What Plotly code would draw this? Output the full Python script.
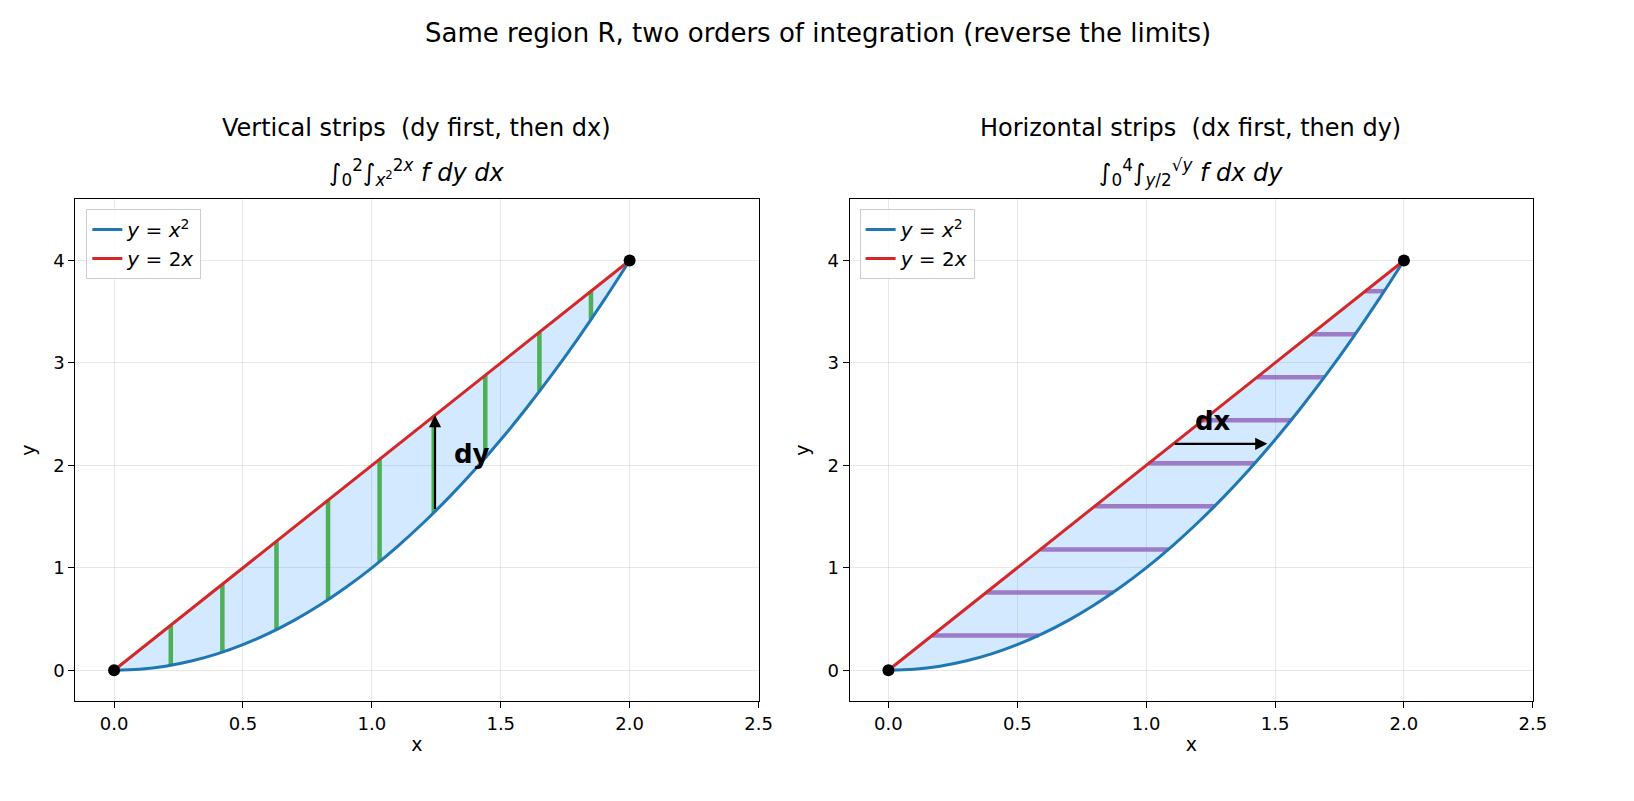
import plotly.graph_objects as go

# === Дані ===
curve_x = [0.0, 0.1, 0.2, 0.3, 0.4, 0.5, 0.6, 0.7, 0.8, 0.9, 1.0,
           1.1, 1.2, 1.3, 1.4, 1.5, 1.6, 1.7, 1.8, 1.9, 2.0]
parab_y = [0.0, 0.01, 0.04, 0.09, 0.16, 0.25, 0.36, 0.49, 0.64, 0.81, 1.0,
           1.21, 1.44, 1.69, 1.96, 2.25, 2.56, 2.89, 3.24, 3.61, 4.0]
line_y = [0.0, 0.2, 0.4, 0.6, 0.8, 1.0, 1.2, 1.4, 1.6, 1.8, 2.0,
          2.2, 2.4, 2.6, 2.8, 3.0, 3.2, 3.4, 3.6, 3.8, 4.0]

# вертикальні смуги: x, низ (x^2), верх (2x)
vstrip_x = [0.22, 0.42, 0.63, 0.83, 1.03, 1.24, 1.44, 1.65, 1.85]
vstrip_lo = [0.048, 0.176, 0.397, 0.689, 1.061, 1.538, 2.074, 2.723, 3.423]
vstrip_hi = [0.44, 0.84, 1.26, 1.66, 2.06, 2.48, 2.88, 3.30, 3.70]

# горизонтальні смуги: y, лівий край (y/2), правий край (sqrt(y))
hstrip_y = [0.34, 0.76, 1.18, 1.60, 2.02, 2.44, 2.86, 3.28, 3.70]
hstrip_lo = [0.17, 0.38, 0.59, 0.80, 1.01, 1.22, 1.43, 1.64, 1.85]
hstrip_hi = [0.583, 0.872, 1.086, 1.265, 1.421, 1.562, 1.691, 1.811, 1.924]

corner_x = [0, 2]
corner_y = [0, 4]

x_ticks = [0.0, 0.5, 1.0, 1.5, 2.0, 2.5]
y_ticks = [0, 1, 2, 3, 4]

W, H = 1634, 801
BLUE = "#1f77b4"
RED = "#d62728"
FILL = "rgba(30,144,255,0.2)"
GREEN = "rgba(44,160,44,0.8)"
PURPLE = "rgba(148,103,189,0.85)"
FONT = "DejaVu Sans"

fig = go.Figure()

panels = [
    ("x", "y", "legend", True),
    ("x2", "y2", "legend2", False),
]

for xa, ya, leg, vertical in panels:
    # область R
    fig.add_trace(go.Scatter(
        x=curve_x + curve_x[::-1], y=parab_y + line_y[::-1],
        fill="toself", fillcolor=FILL, line=dict(width=0, shape="spline"),
        mode="lines", hoverinfo="skip", showlegend=False, xaxis=xa, yaxis=ya))
    # смуги
    sx, sy = [], []
    if vertical:
        for x, lo, hi in zip(vstrip_x, vstrip_lo, vstrip_hi):
            sx += [x, x, None]
            sy += [lo, hi, None]
        color = GREEN
    else:
        for y, lo, hi in zip(hstrip_y, hstrip_lo, hstrip_hi):
            sx += [lo, hi, None]
            sy += [y, y, None]
        color = PURPLE
    fig.add_trace(go.Scatter(x=sx, y=sy, mode="lines",
                             line=dict(color=color, width=4.5),
                             showlegend=False, xaxis=xa, yaxis=ya))
    # криві
    fig.add_trace(go.Scatter(x=curve_x, y=parab_y, mode="lines",
                             line=dict(color=BLUE, width=3, shape="spline"),
                             name="<i>y</i> = <i>x</i><sup>2</sup>",
                             legend=leg, xaxis=xa, yaxis=ya))
    fig.add_trace(go.Scatter(x=[curve_x[0], curve_x[-1]], y=[line_y[0], line_y[-1]],
                             mode="lines", line=dict(color=RED, width=3),
                             name="<i>y</i> = 2<i>x</i>",
                             legend=leg, xaxis=xa, yaxis=ya))
    fig.add_trace(go.Scatter(x=corner_x, y=corner_y, mode="markers",
                             marker=dict(color="black", size=12),
                             showlegend=False, xaxis=xa, yaxis=ya))

# стрілки
fig.add_annotation(x=1.245, y=2.49, ax=1.245, ay=1.56, xref="x", yref="y",
                   axref="x", ayref="y", text="", showarrow=True,
                   arrowhead=2, arrowsize=1.1, arrowwidth=2.2, arrowcolor="black")
fig.add_annotation(x=1.31, y=2.11, xref="x", yref="y", text="<b>dy</b>",
                   showarrow=False, xanchor="left", yanchor="middle",
                   font=dict(size=26, color="black", family=FONT))
fig.add_annotation(x=1.47, y=2.21, ax=1.105, ay=2.21, xref="x2", yref="y2",
                   axref="x2", ayref="y2", text="", showarrow=True,
                   arrowhead=2, arrowsize=1.1, arrowwidth=2.2, arrowcolor="black")
fig.add_annotation(x=1.26, y=2.43, xref="x2", yref="y2", text="<b>dx</b>",
                   showarrow=False, xanchor="center", yanchor="middle",
                   font=dict(size=26, color="black", family=FONT))

# заголовки
fig.add_annotation(x=0.5, y=1 - 25 / H, xref="paper", yref="paper",
                   text="Same region R, two orders of integration (reverse the limits)",
                   showarrow=False, xanchor="center", yanchor="middle",
                   font=dict(size=26, family=FONT, color="black"))
titles = [
    (412 / W, "Vertical strips  (dy first, then dx)",
     "∫<sub>0</sub><sup>2</sup>∫<sub><i>x</i><sup>2</sup></sub><sup>2<i>x</i></sup> <i>f dy dx</i>"),
    (1193 / W, "Horizontal strips  (dx first, then dy)",
     "∫<sub>0</sub><sup>4</sup>∫<sub><i>y</i>/2</sub><sup>√<i>y</i></sup> <i>f dx dy</i>"),
]
for cx, t1, t2 in titles:
    fig.add_annotation(x=cx, y=1 - 120 / H, xref="paper", yref="paper", text=t1,
                       showarrow=False, xanchor="center", yanchor="middle",
                       font=dict(size=24, family=FONT, color="black"))
    fig.add_annotation(x=cx, y=1 - 164 / H, xref="paper", yref="paper", text=t2,
                       showarrow=False, xanchor="center", yanchor="middle",
                       font=dict(size=24, family=FONT, color="black"))

axis_common = dict(
    showline=True, linecolor="black", linewidth=1.3, mirror=True,
    ticks="outside", ticklen=6, tickcolor="black",
    showgrid=True, gridcolor="rgba(0,0,0,0.09)", zeroline=False,
    tickfont=dict(size=18, family=FONT, color="black"),
    title_font=dict(size=19, family=FONT, color="black"),
)
x_dom = [[68 / W, 757 / W], [849 / W, 1538 / W]]
y_dom = [1 - 693 / H, 1 - 191 / H]

fig.update_layout(
    width=W, height=H,
    margin=dict(l=0, r=0, t=0, b=0),
    paper_bgcolor="white", plot_bgcolor="white",
    font=dict(family=FONT, color="black"),
    xaxis=dict(domain=x_dom[0], range=[-0.15, 2.5], tickvals=x_ticks,
               ticktext=[f"{v:.1f}" for v in x_ticks], title_text="x",
               title_standoff=4, anchor="y", **axis_common),
    yaxis=dict(domain=y_dom, range=[-0.3, 4.6], tickvals=y_ticks,
               title_text="y", title_standoff=12, anchor="x", **axis_common),
    xaxis2=dict(domain=x_dom[1], range=[-0.15, 2.5], tickvals=x_ticks,
                ticktext=[f"{v:.1f}" for v in x_ticks], title_text="x",
                title_standoff=4, anchor="y2", **axis_common),
    yaxis2=dict(domain=y_dom, range=[-0.3, 4.6], tickvals=y_ticks,
                title_text="y", title_standoff=12, anchor="x2", **axis_common),
    legend=dict(x=79 / W, y=1 - 201 / H, xanchor="left", yanchor="top",
                bgcolor="rgba(255,255,255,0.8)", bordercolor="#cccccc", borderwidth=1,
                font=dict(size=20, family=FONT), tracegroupgap=4),
    legend2=dict(x=859 / W, y=1 - 201 / H, xanchor="left", yanchor="top",
                 bgcolor="rgba(255,255,255,0.8)", bordercolor="#cccccc", borderwidth=1,
                 font=dict(size=20, family=FONT), tracegroupgap=4),
)

fig.write_html("out.html")
